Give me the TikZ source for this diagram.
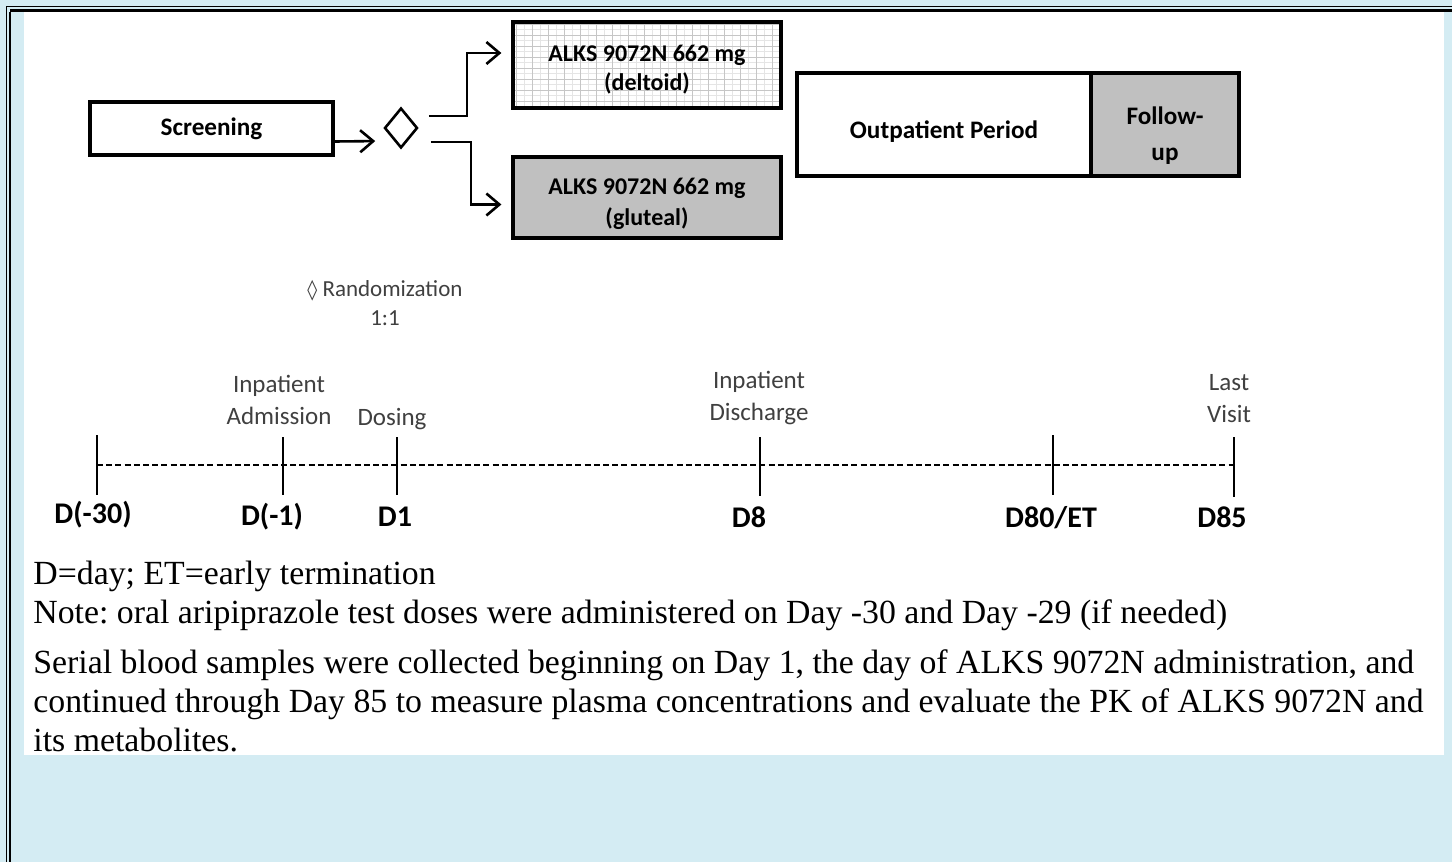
\documentclass[tikz,border=0pt]{standalone}
\usepackage{fontspec}
\setmainfont{Liberation Serif}
\newfontfamily\calibfont{Carlito}
\newfontfamily\symbfont{DejaVu Sans}
\usetikzlibrary{arrows.meta, positioning, calc, shapes.geometric}
\definecolor{pageblue}{HTML}{D4ECF3}
\definecolor{armgray}{HTML}{C0C0C0}
\definecolor{labelgray}{HTML}{404040}
\frenchspacing

\begin{document}
\begin{tikzpicture}[
  x=0.5pt, y=-0.5pt,
  phase/.style={draw, line width=1.6pt, align=center, inner sep=0pt, font=\calibfont\fontsize{12.6}{15}\selectfont\bfseries},
  armtext/.style={font=\calibfont\fontsize{12}{14.5}\selectfont\bfseries},
  grayfill/.style={fill=armgray},
  gridfill/.style={fill=white, path picture={
      \draw[gray!20, line width=0.3pt] (path picture bounding box.south west) grid[xstep=4pt, ystep=2.75pt] (path picture bounding box.north east);
      \draw[gray!45, line width=0.4pt] (path picture bounding box.south west) grid[xstep=8pt, ystep=5.5pt] (path picture bounding box.north east);}},
  flow/.style={-{Straight Barb[length=6.5pt, width=11pt]}, line width=1.3pt},
  event/.style={font=\calibfont\fontsize{12.5}{16}\selectfont, text=labelgray, align=center, inner sep=0pt},
  daylabel/.style={font=\calibfont\fontsize{15}{18}\selectfont\bfseries, inner sep=0pt},
  tick/.style={line width=0.6pt},
  boldtick/.style={line width=1pt},
  note/.style={font=\fontsize{16.9}{19.5}\selectfont, align=left, inner sep=0pt},
]
\useasboundingbox (0,0) rectangle (1452,862);

% page background and frame
\fill[pageblue] (0,0) rectangle (1452,862);
\fill[white] (24,12) rectangle (1444,755);
\draw[line width=0.6pt] (6.5,862) -- (6.5,6.5) -- (1452,6.5);
\draw[line width=1pt] (9.8,862) -- (9.8,12);
\draw[line width=1.75pt] (9.8,10.5) -- (1452,10.5);

% study design
\node[phase, minimum width=121.5pt, minimum height=26.5pt] (screen) at (211.5,128.5) {Screening};
\node[draw, diamond, line width=1.3pt, minimum width=16.5pt, minimum height=20pt, inner sep=0pt] (rand) at (401,128) {};
\node[phase, gridfill, armtext, text height=27pt, minimum width=134pt, minimum height=43pt] (deltoid) at (647,65) {ALKS 9072N 662 mg\\(deltoid)};
\node[phase, grayfill, font=\calibfont\fontsize{12}{15.5}\selectfont\bfseries, text height=30pt, minimum width=134pt, minimum height=40.5pt] (gluteal) at (647,197.5) {ALKS 9072N 662 mg\\(gluteal)};
\node[phase, text height=16pt, minimum width=147pt, minimum height=51.5pt] (outpt) at (944,124.5) {Outpatient Period};
\node[phase, grayfill, font=\calibfont\fontsize{12.6}{18}\selectfont\bfseries, text height=38pt, minimum width=74pt, minimum height=51.5pt, right=-1.6pt of outpt] (follow) {Follow-\\up};

\draw[flow, shorten >=4pt] ($(screen.east)+(0,13)$) -- ($(rand.west)+(0,13)$);
\draw[flow, shorten >=5pt] ($(rand.east)+(10,-12)$) -- ++(38,0) |- ($(deltoid.west)+(0,-12)$);
\draw[flow, shorten >=5pt] ($(rand.east)+(12,14)$) -- ++(40,0) |- ($(gluteal.west)+(0,7)$);

\node[event, font=\calibfont\fontsize{11.5}{14.5}\selectfont] (randnote) at (385,303) {{\symbfont\fontsize{10}{10}\selectfont ◊} Randomization\\1:1};

% timeline
\coordinate (d30) at (97,465);
\coordinate (dm1) at (283,465);
\coordinate (d1) at (397,465);
\coordinate (d8) at (760,465);
\coordinate (d80) at (1053,465);
\coordinate (d85) at (1234,465);
\draw[line width=0.6pt, dash pattern=on 3pt off 1.6pt] (d30) -- (d85);
\draw[boldtick] ($(d30)+(0,-30)$) -- ($(d30)+(0,30)$);
\draw[tick] ($(dm1)+(0,-28)$) -- ($(dm1)+(0,30)$);
\draw[tick] ($(d1)+(0,-28)$) -- ($(d1)+(0,30)$);
\draw[tick] ($(d8)+(0,-28)$) -- ($(d8)+(0,31)$);
\draw[boldtick] ($(d80)+(0,-30)$) -- ($(d80)+(0,30)$);
\draw[tick] ($(d85)+(0,-28)$) -- ($(d85)+(0,32)$);

\node[event] (admit) at (279,400) {Inpatient\\Admission};
\node[event] (dosing) at (392,419) {Dosing};
\node[event] (discharge) at (759,398) {Inpatient\\Discharge};
\node[event] (lastvisit) at (1229,399) {Last\\Visit};

\node[daylabel] (lab30) at (93,515) {D(-30)};
\node[daylabel] (labm1) at (272,517) {D(-1)};
\node[daylabel] (lab1) at (395,517) {D1};
\node[daylabel] (lab8) at (749,517) {D8};
\node[daylabel] (lab80) at (1051,518) {D80/ET};
\node[daylabel] (lab85) at (1222,517) {D85};

% footnotes
\node[note, anchor=base west] (abbr) at (33,584) {D=day; ET=early termination};
\node[note, anchor=base west] (testdose) at (33,623) {Note: oral aripiprazole test doses were administered on Day -30 and Day -29 (if needed)};
\node[note, anchor=north west] (samples) at (33,649) {Serial blood samples were collected beginning on Day 1, the day of ALKS 9072N administration, and\\continued through Day 85 to measure plasma concentrations and evaluate the PK of ALKS 9072N and\\its metabolites.};
\end{tikzpicture}
\end{document}
